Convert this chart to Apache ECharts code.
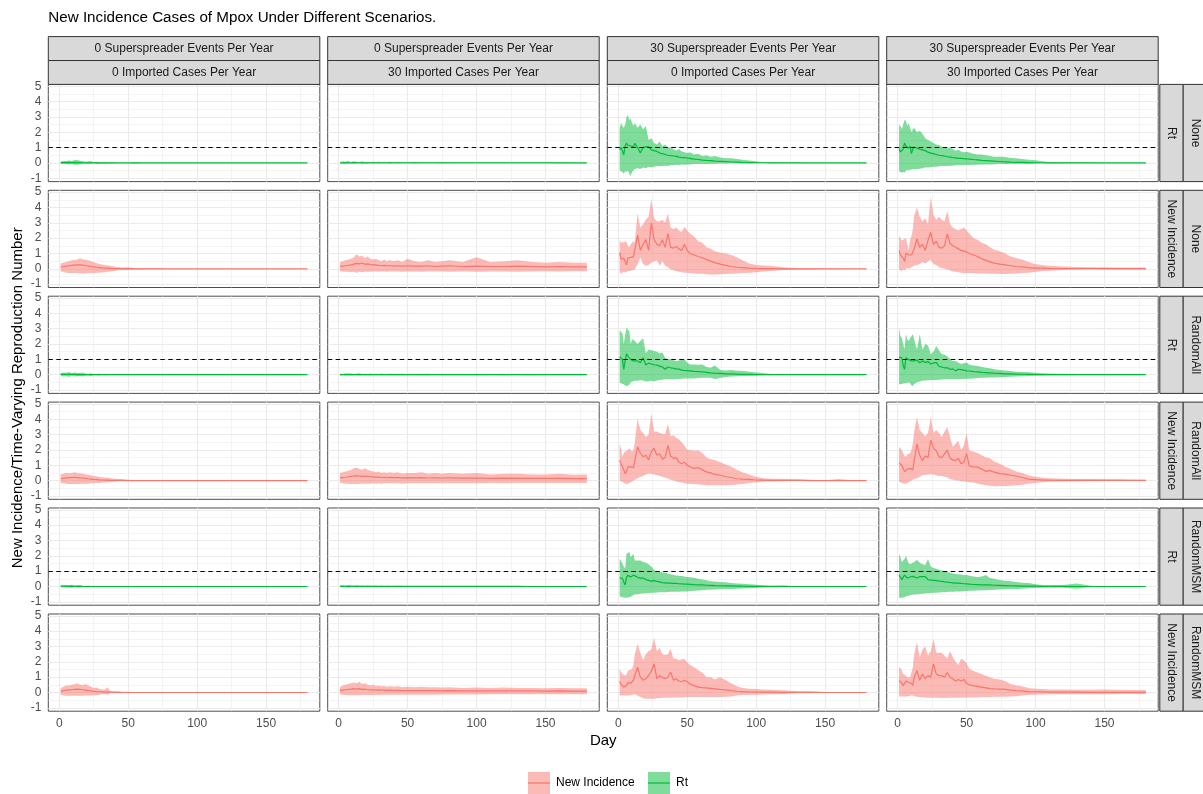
<!DOCTYPE html>
<html><head><meta charset="utf-8">
<script src="https://cdn.jsdelivr.net/npm/echarts@6/dist/echarts.min.js"></script>
<style>html,body{margin:0;padding:0;background:#fff}#c{width:1203px;height:794px}</style>
</head><body><div id="c"></div>
<script>
// ---------------- text ----------------
const chartTitle = 'New Incidence Cases of Mpox Under Different Scenarios.';
const xTitle = 'Day';
const yTitle = 'New Incidence/Time-Varying Reproduction Number';
const colSuper = ['0 Superspreader Events Per Year','0 Superspreader Events Per Year','30 Superspreader Events Per Year','30 Superspreader Events Per Year'];
const colImport = ['0 Imported Cases Per Year','30 Imported Cases Per Year','0 Imported Cases Per Year','30 Imported Cases Per Year'];
const rowMeasure = ['Rt','New Incidence','Rt','New Incidence','Rt','New Incidence'];
const rowScenario = ['None','None','RandomAll','RandomAll','RandomMSM','RandomMSM'];
const legendNames = ['New Incidence','Rt'];
// ---------------- ticks ----------------
const xTicks = [0,50,100,150];
const xMinor = [25,75,125,175];
const yTicks = [-1,0,1,2,3,4,5];
const yMinor = [-0.5,0.5,1.5,2.5,3.5,4.5];
const rtThreshold = 1;
// ---------------- day grids ----------------
const daysA = [1,2,3,4,5,6,7,8,9,10,11,12, 14,16,18,20,22,24,26,28,30,32,34,36,38,40,42,44,46,48,50,52, 55,58,61,64,67,70,74,78,82,86,90, 95,100,105,110,120,130,140,150,160,170,180];
const daysB = [1,3,5,7,9,11,13,15,17,19,21,23,25,27,29,31,33,35,37, 40,43,46,50, 55,60,65,70,75,80, 90,100,110,120,130,140,150,160,170,180];

// ---------------- column 1 (0 SS, 0 imported) ----------------
const p11Mean = [0.02,0.03,0.02,0.03,0.02,0.03,0.02,0.02,0.01,0.01,0.01,0.01,0.01,0,0,0,0,0,0, 0,0,0,0, 0,0,0,0,0,0, 0,0,0,0,0,0,0,0,0,0];
const p11Hi   = [0.08,0.1,0.12,0.15,0.12,0.18,0.2,0.14,0.12,0.08,0.1,0.12,0.06,0.08,0.05,0.04,0.06,0.03,0.04, 0.02,0,0,0, 0.04,0,0,0,0,0, 0,0,0,0,0,0,0,0,0,0];
const p11Lo   = [-0.05,-0.08,-0.08,-0.1,-0.08,-0.12,-0.12,-0.1,-0.08,-0.06,-0.07,-0.08,-0.04,-0.05,-0.04,-0.03,-0.04,-0.02,-0.03, -0.01,0,0,0, -0.03,0,0,0,0,0, 0,0,0,0,0,0,0,0,0,0];
const p21Mean = [0.1,0.15,0.18,0.2,0.22,0.24,0.25,0.25,0.24,0.2,0.18,0.15,0.12,0.1,0.08,0.06,0.05,0.04,0.03, 0.02,0.01,0.01,0.01, 0,0,0,0,0,0, 0,0,0,0,0,0,0,0,0,0];
const p21Hi   = [0.36,0.4,0.45,0.5,0.55,0.57,0.6,0.68,0.62,0.6,0.55,0.5,0.42,0.38,0.32,0.28,0.25,0.22,0.2, 0.15,0.1,0.08,0.1, 0.06,0.03,0.03,0.05,0.03,0, 0,0,0,0,0,0,0,0,0,0];
const p21Lo   = [-0.17,-0.2,-0.25,-0.27,-0.28,-0.28,-0.28,-0.3,-0.3,-0.3,-0.28,-0.28,-0.27,-0.26,-0.25,-0.24,-0.22,-0.2,-0.17, -0.15,-0.1,-0.08,-0.08, -0.05,-0.03,-0.02,-0.02,-0.02,0, 0,0,0,0,0,0,0,0,0,0];
const p31Mean = [0.02,0.02,0.03,0.02,0.02,0.02,0.01,0.02,0.01,0.01,0.01,0,0,0,0,0,0,0,0, 0,0,0,0, 0,0,0,0,0,0, 0,0,0,0,0,0,0,0,0,0];
const p31Hi   = [0.1,0.15,0.12,0.18,0.1,0.14,0.12,0.1,0.15,0.08,0.06,0.1,0.05,0.04,0.06,0.03,0.05,0.02,0.03, 0.02,0,0,0, 0,0,0,0,0,0, 0,0,0,0,0,0,0,0,0,0];
const p31Lo   = [-0.08,-0.12,-0.1,-0.14,-0.08,-0.1,-0.1,-0.08,-0.12,-0.06,-0.05,-0.08,-0.04,-0.03,-0.05,-0.02,-0.04,-0.01,-0.02, -0.01,0,0,0, 0,0,0,0,0,0, 0,0,0,0,0,0,0,0,0,0];
const p41Mean = [0.12,0.15,0.18,0.2,0.2,0.22,0.2,0.18,0.17,0.15,0.12,0.1,0.08,0.07,0.05,0.04,0.03,0.03,0.02, 0.01,0.01,0.01,0, 0,0,0,0,0,0, 0,0,0,0,0,0,0,0,0,0];
const p41Hi   = [0.4,0.45,0.5,0.48,0.5,0.55,0.5,0.48,0.45,0.42,0.38,0.35,0.3,0.28,0.25,0.22,0.2,0.18,0.15, 0.12,0.1,0.08,0.05, 0.04,0.03,0.02,0.03,0,0, 0,0,0,0,0,0,0,0,0,0];
const p41Lo   = [-0.15,-0.18,-0.2,-0.22,-0.22,-0.22,-0.22,-0.22,-0.2,-0.2,-0.2,-0.18,-0.17,-0.16,-0.15,-0.13,-0.12,-0.1,-0.09, -0.07,-0.05,-0.04,-0.03, -0.02,-0.01,-0.01,-0.01,0,0, 0,0,0,0,0,0,0,0,0,0];
const p51Mean = [0.01,0.02,0.02,0.01,0.02,0.01,0.01,0.01,0,0,0,0,0,0,0,0,0,0,0, 0,0,0,0, 0,0,0,0,0,0, 0,0,0,0,0,0,0,0,0,0];
const p51Hi   = [0.06,0.08,0.1,0.08,0.12,0.06,0.08,0.1,0.05,0.04,0.06,0.03,0.05,0.02,0.02,0,0,0,0, 0,0,0,0, 0,0,0,0,0,0, 0,0,0,0,0,0,0,0,0,0];
const p51Lo   = [-0.04,-0.06,-0.07,-0.06,-0.08,-0.04,-0.06,-0.07,-0.04,-0.03,-0.04,-0.02,-0.03,-0.01,-0.01,0,0,0,0, 0,0,0,0, 0,0,0,0,0,0, 0,0,0,0,0,0,0,0,0,0];
const p61Mean = [0.08,0.12,0.15,0.17,0.18,0.2,0.22,0.2,0.18,0.15,0.12,0.1,0.08,0.06,0.05,0.04,0.03,0.02,0.02, 0.01,0.01,0,0, 0,0,0,0,0,0, 0,0,0,0,0,0,0,0,0,0];
const p61Hi   = [0.3,0.38,0.45,0.45,0.5,0.52,0.6,0.5,0.48,0.55,0.45,0.38,0.3,0.32,0.25,0.2,0.2,0.35,0.1, 0.08,0.06,0.05,0.05, 0.03,0.02,0.02,0.03,0,0, 0,0,0,0,0,0,0,0,0,0];
const p61Lo   = [-0.15,-0.2,-0.22,-0.22,-0.22,-0.22,-0.22,-0.22,-0.22,-0.2,-0.2,-0.2,-0.18,-0.18,-0.15,-0.12,-0.1,-0.15,-0.05, -0.04,-0.03,-0.02,-0.02, -0.01,-0.01,-0.01,-0.01,0,0, 0,0,0,0,0,0,0,0,0,0];

// ---------------- column 2 (0 SS, 30 imported) ----------------
const p12Mean = [0.01,0.01,0.02,0.01,0.01,0.02,0.01,0.01,0.01,0.01,0.01,0.01,0.01,0.01,0.01,0.01,0.01,0.01,0.01, 0.01,0.01,0.01,0.01, 0.01,0.01,0.01,0.01,0.01,0.01, 0.01,0.01,0.01,0.01,0.01,0.01,0.01,0,0,0];
const p12Hi   = [0.06,0.1,0.08,0.12,0.06,0.1,0.08,0.05,0.1,0.06,0.08,0.05,0.07,0.04,0.08,0.05,0.06,0.04,0.07, 0.05,0.06,0.04,0.05, 0.06,0.04,0.05,0.03,0.06,0.04, 0.05,0.03,0.05,0.04,0.03,0.05,0.04,0.02,0.01,0];
const p12Lo   = [-0.04,-0.07,-0.05,-0.08,-0.04,-0.07,-0.05,-0.03,-0.07,-0.04,-0.05,-0.03,-0.05,-0.03,-0.05,-0.03,-0.04,-0.03,-0.05, -0.03,-0.04,-0.03,-0.03, -0.04,-0.03,-0.03,-0.02,-0.04,-0.03, -0.03,-0.02,-0.03,-0.03,-0.02,-0.03,-0.03,-0.01,-0.01,0];
const p22Mean = [0.15,0.18,0.2,0.22,0.25,0.3,0.35,0.32,0.38,0.3,0.32,0.28,0.25,0.25,0.22,0.2,0.22,0.2,0.2, 0.18,0.2,0.18,0.2, 0.18,0.17,0.2,0.15,0.18,0.2, 0.15,0.18,0.15,0.15,0.17,0.15,0.13,0.15,0.12,0.13];
const p22Hi   = [0.45,0.5,0.55,0.6,0.65,0.75,0.95,0.8,0.85,0.7,0.8,0.65,0.6,0.65,0.55,0.5,0.6,0.5,0.55, 0.5,0.55,0.45,0.65, 0.5,0.45,0.55,0.45,0.5,0.55, 0.45,0.75,0.45,0.5,0.55,0.45,0.4,0.45,0.4,0.4];
const p22Lo   = [-0.15,-0.18,-0.2,-0.2,-0.22,-0.2,-0.25,-0.2,-0.22,-0.2,-0.2,-0.2,-0.18,-0.18,-0.2,-0.18,-0.18,-0.2,-0.18, -0.18,-0.18,-0.2,-0.18, -0.18,-0.2,-0.18,-0.17,-0.18,-0.2, -0.17,-0.2,-0.17,-0.18,-0.2,-0.17,-0.16,-0.17,-0.16,-0.16];
const p32Mean = [0.01,0.01,0.01,0.02,0.01,0.01,0.01,0.01,0.01,0.01,0.01,0.01,0.01,0.01,0.01,0.01,0.01,0.01,0.01, 0.01,0.01,0.01,0.01, 0.01,0.01,0.01,0.01,0.01,0.01, 0.01,0.01,0.01,0.01,0.01,0.01,0.01,0,0,0];
const p32Hi   = [0.08,0.05,0.1,0.06,0.09,0.05,0.07,0.1,0.05,0.06,0.04,0.08,0.05,0.06,0.04,0.07,0.05,0.04,0.06, 0.05,0.04,0.06,0.04, 0.05,0.04,0.06,0.03,0.05,0.04, 0.04,0.05,0.03,0.04,0.03,0.04,0.03,0.02,0.02,0];
const p32Lo   = [-0.05,-0.03,-0.06,-0.04,-0.05,-0.03,-0.04,-0.06,-0.03,-0.04,-0.03,-0.05,-0.03,-0.04,-0.03,-0.04,-0.03,-0.03,-0.04, -0.03,-0.03,-0.04,-0.03, -0.03,-0.03,-0.04,-0.02,-0.03,-0.03, -0.03,-0.03,-0.02,-0.03,-0.02,-0.03,-0.02,-0.01,-0.01,0];
const p42Mean = [0.18,0.2,0.22,0.25,0.28,0.3,0.32,0.3,0.28,0.3,0.27,0.25,0.24,0.22,0.23,0.2,0.22,0.2,0.21, 0.2,0.2,0.18,0.2, 0.18,0.2,0.17,0.18,0.17,0.18, 0.16,0.17,0.15,0.16,0.15,0.15,0.14,0.15,0.13,0.13];
const p42Hi   = [0.5,0.55,0.6,0.65,0.7,0.8,0.85,0.75,0.7,0.8,0.7,0.65,0.6,0.55,0.6,0.5,0.55,0.5,0.55, 0.5,0.55,0.45,0.5, 0.5,0.55,0.45,0.5,0.45,0.5, 0.45,0.5,0.4,0.45,0.45,0.4,0.4,0.45,0.38,0.4];
const p42Lo   = [-0.15,-0.18,-0.2,-0.2,-0.22,-0.2,-0.22,-0.2,-0.2,-0.2,-0.2,-0.2,-0.18,-0.2,-0.18,-0.2,-0.18,-0.18,-0.18, -0.18,-0.18,-0.2,-0.18, -0.18,-0.18,-0.17,-0.18,-0.17,-0.18, -0.17,-0.17,-0.16,-0.17,-0.16,-0.16,-0.16,-0.16,-0.15,-0.15];
const p52Mean = [0.01,0.01,0.01,0.01,0.01,0.01,0.01,0.01,0.01,0.01,0.01,0.01,0.01,0.01,0.01,0.01,0.01,0.01,0.01, 0.01,0.01,0.01,0.01, 0.01,0.01,0.01,0.01,0.01,0.01, 0.01,0.01,0.01,0.01,0.01,0,0,0,0,0];
const p52Hi   = [0.06,0.08,0.05,0.1,0.06,0.05,0.08,0.05,0.06,0.04,0.07,0.05,0.04,0.06,0.04,0.05,0.03,0.05,0.04, 0.04,0.05,0.03,0.04, 0.04,0.03,0.04,0.03,0.04,0.03, 0.03,0.04,0.02,0.03,0.03,0.02,0.01,0,0,0];
const p52Lo   = [-0.04,-0.05,-0.03,-0.06,-0.04,-0.03,-0.05,-0.03,-0.04,-0.02,-0.04,-0.03,-0.02,-0.04,-0.02,-0.03,-0.02,-0.03,-0.02, -0.02,-0.03,-0.02,-0.02, -0.02,-0.02,-0.02,-0.02,-0.02,-0.02, -0.02,-0.02,-0.01,-0.02,-0.02,-0.01,-0.01,0,0,0];
const p62Mean = [0.12,0.15,0.18,0.2,0.22,0.25,0.22,0.25,0.2,0.22,0.18,0.17,0.18,0.15,0.17,0.15,0.15,0.14,0.15, 0.13,0.14,0.12,0.13, 0.12,0.13,0.12,0.12,0.11,0.12, 0.1,0.11,0.1,0.1,0.1,0.1,0.09,0.1,0.09,0.09];
const p62Hi   = [0.35,0.45,0.5,0.55,0.6,0.65,0.6,0.7,0.55,0.6,0.5,0.45,0.5,0.42,0.45,0.4,0.42,0.38,0.4, 0.38,0.4,0.35,0.38, 0.35,0.38,0.35,0.35,0.32,0.35, 0.3,0.32,0.3,0.32,0.3,0.3,0.28,0.3,0.28,0.28];
const p62Lo   = [-0.12,-0.15,-0.17,-0.18,-0.18,-0.18,-0.18,-0.18,-0.17,-0.17,-0.16,-0.16,-0.16,-0.15,-0.16,-0.15,-0.15,-0.15,-0.15, -0.15,-0.15,-0.14,-0.14, -0.14,-0.14,-0.14,-0.14,-0.13,-0.13, -0.13,-0.13,-0.12,-0.12,-0.12,-0.12,-0.12,-0.12,-0.11,-0.11];

// ---------------- column 3 (30 SS, 0 imported) ----------------
const p13Mean = [0.85,1.0,0.8,0.53,1.1,1.3,1.15,1.06,1.1,1.0,1.05,1.28, 1.0,0.64,1.0,1.05,1.06,0.85,0.8,0.75,0.64,0.6,0.55,0.5,0.47,0.45,0.42,0.38,0.35,0.34,0.32,0.3, 0.25,0.22,0.18,0.16,0.15,0.12,0.1,0.08,0.06,0.05,0.03, 0.02,0.01,0.01,0,0,0,0,0,0,0,0];
const p13Hi   = [2.3,2.6,2.4,2.3,2.5,3.0,3.1,2.8,2.9,2.6,2.4,2.6, 2.3,2.5,2.2,2.4,1.5,1.6,1.3,1.2,1.4,1.1,1.2,1.0,1.0,0.9,0.8,0.9,0.75,0.7,0.65,0.7, 0.55,0.6,0.45,0.5,0.4,0.45,0.35,0.3,0.3,0.25,0.2, 0.15,0.1,0.05,0.05,0.03,0.02,0,0,0,0,0];
const p13Lo   = [-0.5,-0.55,-0.6,-0.7,-0.55,-0.6,-0.5,-0.7,-0.85,-0.6,-0.5,-0.4, -0.35,-0.4,-0.3,-0.35,-0.25,-0.3,-0.25,-0.2,-0.22,-0.2,-0.18,-0.2,-0.15,-0.15,-0.12,-0.14,-0.1,-0.12,-0.1,-0.1, -0.08,-0.08,-0.06,-0.07,-0.05,-0.05,-0.04,-0.04,-0.03,-0.03,-0.02, -0.02,-0.02,-0.01,-0.01,0,0,0,0,0,0,0];
const p23Mean = [1.06,0.64,0.7,0.68,0.5,0.25,0.7,0.8,0.75,0.72,0.78,0.8, 2.2,1.2,1.6,1.9,1.2,3.0,1.9,1.6,1.5,1.9,1.4,2.3,1.4,1.35,1.45,1.3,1.2,1.6,1.2,1.0, 0.9,0.8,0.72,0.6,0.5,0.4,0.3,0.22,0.15,0.1,0.07, 0.04,0.02,0.01,0.01,0,0,0,0,0,0,0];
const p23Hi   = [1.9,1.7,1.75,1.7,1.8,1.75,1.5,1.4,1.6,1.7,1.8,1.7, 3.6,2.7,2.9,3.2,3.4,4.55,3.3,3.1,3.1,3.2,3.0,3.6,2.7,2.6,2.7,2.5,2.4,2.75,2.5,2.3, 2.1,1.8,1.7,1.4,1.3,1.15,1.05,1.0,0.9,0.75,0.55, 0.35,0.25,0.22,0.2,0.1,0.05,0.05,0.02,0.02,0,0];
const p23Lo   = [-0.2,-0.32,-0.25,-0.2,-0.25,-0.2,-0.15,-0.15,-0.12,-0.1,-0.08,-0.05, 0.3,0.75,0.3,0.2,0.25,0.4,0.5,0.55,0.2,0.5,0.2,0.1,-0.05,-0.1,-0.15,-0.2,-0.22,-0.25,-0.25,-0.28, -0.3,-0.32,-0.32,-0.35,-0.38,-0.38,-0.36,-0.34,-0.32,-0.3,-0.28, -0.25,-0.22,-0.18,-0.15,-0.08,-0.05,-0.03,-0.02,-0.01,0,0];
const p33Mean = [1.17,1.05,1.0,0.35,0.9,1.37,1.2,1.1,1.0,0.95,0.9,0.95, 0.9,0.78,1.1,0.63,0.75,0.7,0.65,0.62,0.56,0.5,0.35,0.5,0.45,0.42,0.38,0.36,0.3,0.28,0.27,0.25, 0.22,0.2,0.18,0.15,0.12,0.1,0.08,0.06,0.05,0.04,0.02, 0.02,0.01,0,0,0,0,0,0,0,0,0];
const p33Hi   = [2.9,2.8,2.7,2.0,2.6,3.07,2.95,2.85,2.0,2.3,2.3,2.2, 2.0,2.2,2.4,1.4,1.65,1.6,1.55,1.5,1.4,1.45,1.1,1.0,1.0,0.95,0.9,0.92,0.98,1.0,0.8,0.67, 0.67,0.65,0.67,0.5,0.45,0.6,0.3,0.28,0.3,0.25,0.25, 0.2,0.15,0.11,0.05,0.04,0.05,0,0,0,0,0];
const p33Lo   = [-0.52,-0.55,-0.6,-0.63,-0.7,-0.74,-0.7,-0.65,-0.5,-0.45,-0.42,-0.4, -0.4,-0.37,-0.38,-0.45,-0.42,-0.4,-0.45,-0.38,-0.35,-0.33,-0.3,-0.3,-0.3,-0.3,-0.28,-0.28,-0.26,-0.25,-0.25,-0.24, -0.24,-0.22,-0.2,-0.2,-0.2,-0.28,-0.22,-0.15,-0.12,-0.1,-0.09, -0.08,-0.06,-0.04,-0.02,-0.02,-0.02,0,0,0,0,0];
const p43Mean = [1.33,1.1,0.9,0.7,0.45,0.6,0.9,1.0,0.9,0.8,0.85,0.9, 2.2,1.8,1.55,1.65,1.35,1.9,2.1,1.65,1.75,1.4,1.5,2.3,1.6,1.45,1.5,1.2,1.1,1.2,1.0,0.9, 0.8,0.85,0.7,0.57,0.5,0.4,0.35,0.25,0.2,0.12,0.1, 0.08,0.04,0.03,0.02,0.01,0.01,0,0,0,0,0];
const p43Hi   = [2.4,2.1,1.55,1.8,1.9,1.95,2.0,2.1,2.0,1.9,2.0,2.5, 4.04,3.3,3.1,2.85,3.0,4.37,3.2,3.2,3.1,3.05,3.0,3.7,2.9,2.95,2.8,2.7,2.5,2.3,2.0,2.0, 1.95,1.98,1.8,1.5,1.4,1.35,1.2,1.05,0.9,0.7,0.55, 0.4,0.25,0.15,0.12,0.1,0.08,0.05,0.03,0.1,0.02,0];
const p43Lo   = [0.0,-0.05,-0.08,-0.15,-0.2,-0.2,-0.2,-0.15,-0.1,-0.05,0.0,0.05, 0.15,0.24,0.3,0.4,0.46,0.45,0.4,0.35,0.3,0.25,0.2,0.13,0.05,0.0,-0.05,-0.1,-0.12,-0.15,-0.2,-0.2, -0.23,-0.25,-0.27,-0.3,-0.3,-0.3,-0.3,-0.3,-0.28,-0.25,-0.22, -0.15,-0.12,-0.08,-0.06,-0.04,-0.03,-0.02,-0.01,-0.02,0,0];
const p53Mean = [0.57,0.55,0.53,0.3,0.1,0.6,0.74,0.65,0.62,0.7,0.74,0.7, 0.6,0.55,0.55,0.45,0.4,0.35,0.38,0.33,0.3,0.25,0.24,0.22,0.22,0.2,0.2,0.18,0.17,0.15,0.15,0.14, 0.12,0.11,0.1,0.08,0.07,0.06,0.05,0.04,0.04,0.03,0.02, 0.01,0.01,0.01,0,0,0,0,0,0,0,0];
const p53Hi   = [1.8,1.7,1.5,1.3,1.15,2.13,2.2,2.25,1.9,2.0,2.13,1.7, 1.7,1.7,1.6,1.55,1.45,1.3,1.1,0.95,0.95,0.93,0.9,0.85,0.8,0.75,0.72,0.7,0.68,0.65,0.62,0.6, 0.57,0.5,0.45,0.4,0.35,0.33,0.3,0.28,0.22,0.2,0.18, 0.15,0.12,0.08,0.06,0.08,0.02,0,0,0,0,0];
const p53Lo   = [-0.64,-0.68,-0.7,-0.72,-0.74,-0.74,-0.72,-0.7,-0.68,-0.6,-0.55,-0.5, -0.5,-0.48,-0.45,-0.44,-0.42,-0.41,-0.4,-0.39,-0.38,-0.38,-0.37,-0.36,-0.35,-0.35,-0.34,-0.34,-0.33,-0.33,-0.32,-0.3, -0.28,-0.26,-0.24,-0.22,-0.21,-0.2,-0.18,-0.17,-0.16,-0.14,-0.13, -0.12,-0.1,-0.07,-0.05,-0.04,-0.02,0,0,0,0,0];
const p63Mean = [0.72,0.55,0.45,0.35,0.24,0.45,0.65,0.68,0.6,0.55,0.8,1.1, 1.65,1.0,0.8,0.9,1.1,1.4,1.87,0.9,1.1,1.0,0.9,1.0,1.33,0.8,0.9,0.75,0.7,0.8,0.7,0.55, 0.45,0.35,0.32,0.3,0.27,0.24,0.2,0.17,0.12,0.08,0.06, 0.04,0.03,0.02,0.02,0.01,0.01,0.01,0,0,0,0];
const p63Hi   = [1.54,1.35,1.2,1.15,1.1,1.2,1.4,1.45,1.5,1.54,1.8,2.5, 3.17,2.6,2.1,2.5,2.7,2.8,3.57,2.7,2.9,2.5,2.45,2.5,2.85,2.2,2.2,2.1,2.15,2.2,1.95,1.8, 1.65,1.45,1.3,1.0,1.0,0.85,1.0,0.8,0.6,0.4,0.3, 0.25,0.22,0.2,0.18,0.15,0.08,0.08,0.04,0.02,0,0];
const p63Lo   = [-0.2,-0.2,-0.2,-0.2,-0.2,-0.2,-0.2,-0.2,-0.18,-0.15,-0.13,-0.12, -0.2,-0.3,-0.38,-0.41,-0.41,-0.4,-0.4,-0.38,-0.36,-0.35,-0.35,-0.35,-0.34,-0.33,-0.32,-0.32,-0.32,-0.31,-0.3,-0.3, -0.3,-0.3,-0.3,-0.3,-0.3,-0.3,-0.3,-0.28,-0.26,-0.2,-0.17, -0.15,-0.14,-0.13,-0.12,-0.1,-0.05,-0.04,-0.02,-0.01,0,0];

// ---------------- column 4 (30 SS, 30 imported) ----------------
const p14Mean = [0.95,0.7,0.64,0.9,1.3,1.1,1.0,0.96,1.1,0.6,0.9,1.05, 0.96,0.9,0.85,0.8,0.7,0.64,0.6,0.55,0.5,0.48,0.45,0.4,0.38,0.35,0.33,0.3,0.3,0.28,0.26,0.25, 0.22,0.2,0.17,0.15,0.13,0.11,0.09,0.07,0.05,0.04,0.03, 0.02,0.01,0.01,0,0,0,0,0,0,0,0];
const p14Hi   = [2.5,2.4,2.2,2.5,2.8,2.75,2.4,2.6,2.3,2.0,2.2,2.3, 2.0,2.1,1.9,1.6,1.5,1.4,1.3,1.2,1.17,1.05,1.0,0.95,1.0,0.9,0.8,0.85,0.75,0.7,0.72,0.68, 0.6,0.55,0.55,0.5,0.45,0.4,0.4,0.38,0.32,0.3,0.25, 0.2,0.17,0.1,0.06,0.04,0.03,0.02,0,0,0,0];
const p14Lo   = [-0.55,-0.6,-0.65,-0.6,-0.64,-0.5,-0.45,-0.5,-0.43,-0.45,-0.4,-0.42, -0.4,-0.38,-0.35,-0.3,-0.3,-0.28,-0.25,-0.25,-0.22,-0.2,-0.2,-0.2,-0.18,-0.18,-0.16,-0.16,-0.15,-0.15,-0.14,-0.14, -0.12,-0.12,-0.1,-0.1,-0.1,-0.09,-0.08,-0.07,-0.06,-0.06,-0.05, -0.05,-0.04,-0.03,-0.02,-0.01,0,0,0,0,0,0];
const p24Mean = [1.2,0.9,0.8,0.7,0.47,1.0,0.95,0.9,0.85,0.9,1.0,1.3, 1.96,1.4,1.6,1.2,1.85,2.38,1.6,1.8,1.4,1.35,1.5,2.28,1.65,1.5,1.4,1.3,1.2,1.15,1.1,1.0, 0.9,0.8,0.65,0.55,0.45,0.37,0.3,0.25,0.2,0.15,0.12, 0.08,0.05,0.04,0.03,0.02,0.02,0.02,0.01,0.01,0.01,0.01];
const p24Hi   = [2.15,2.0,1.85,1.9,1.95,2.0,1.6,1.2,1.9,2.1,2.6,3.5, 4.0,3.4,3.1,3.3,2.9,4.7,3.5,3.2,3.4,3.2,3.1,3.77,2.9,2.7,2.6,2.5,2.6,2.7,2.5,2.3, 2.0,1.9,1.7,1.6,1.4,1.25,1.15,1.0,0.8,0.7,0.6, 0.45,0.3,0.25,0.2,0.15,0.12,0.1,0.1,0.08,0.08,0.08];
const p24Lo   = [-0.05,-0.1,-0.15,-0.05,-0.1,0.0,0.05,0.0,0.05,0.1,0.15,0.2, 0.25,0.3,0.45,0.35,0.5,0.57,0.3,0.25,0.1,0.05,0.0,-0.05,-0.1,-0.17,-0.2,-0.22,-0.25,-0.28,-0.28,-0.28, -0.28,-0.3,-0.3,-0.3,-0.32,-0.32,-0.34,-0.34,-0.32,-0.3,-0.28, -0.25,-0.2,-0.15,-0.12,-0.08,-0.06,-0.05,-0.05,-0.04,-0.04,-0.04];
const p34Mean = [1.15,1.1,1.1,0.6,0.35,1.1,1.0,0.98,0.95,0.9,0.88,0.9, 0.95,0.78,0.9,0.8,0.85,0.7,0.75,0.8,0.55,0.5,0.45,0.45,0.35,0.38,0.25,0.35,0.33,0.3,0.25,0.24, 0.2,0.18,0.15,0.14,0.12,0.1,0.08,0.06,0.05,0.04,0.03, 0.02,0.01,0.01,0,0,0,0,0,0,0,0];
const p34Hi   = [3.07,2.5,2.4,2.0,1.65,2.63,2.3,2.2,2.4,2.5,2.63,2.3, 1.65,2.63,1.65,2.0,1.9,1.33,1.5,1.87,1.6,1.33,1.3,1.2,1.0,0.9,0.9,0.8,0.7,0.75,0.8,0.65, 0.6,0.56,0.5,0.45,0.42,0.35,0.3,0.28,0.24,0.2,0.18, 0.16,0.12,0.1,0.08,0.06,0.05,0.03,0,0,0,0];
const p34Lo   = [-0.63,-0.62,-0.6,-0.58,-0.55,-0.55,-0.52,-0.5,-0.55,-0.7,-0.74,-0.6, -0.5,-0.45,-0.4,-0.38,-0.37,-0.37,-0.35,-0.34,-0.33,-0.32,-0.3,-0.3,-0.3,-0.3,-0.3,-0.3,-0.28,-0.28,-0.26,-0.26, -0.24,-0.22,-0.2,-0.2,-0.18,-0.18,-0.16,-0.15,-0.14,-0.12,-0.1, -0.08,-0.06,-0.05,-0.04,-0.03,-0.02,-0.01,0,0,0,0];
const p44Mean = [1.15,1.1,1.0,0.8,0.57,0.65,0.75,0.78,0.8,0.75,0.7,1.3, 2.4,1.65,1.3,1.6,1.5,2.63,2.1,1.95,1.55,1.5,1.75,1.98,1.45,1.35,1.3,1.45,1.1,1.2,1.76,0.95, 0.9,0.88,0.75,0.6,0.65,0.55,0.45,0.42,0.35,0.3,0.2, 0.1,0.06,0.04,0.03,0.02,0.01,0.01,0.01,0.01,0.01,0.01];
const p44Hi   = [2.2,2.1,2.0,1.8,1.6,1.55,1.7,1.75,1.8,2.0,2.4,3.2, 4.15,3.3,3.1,2.9,3.1,4.15,3.1,3.3,3.1,2.85,3.2,3.5,2.85,2.2,2.4,2.6,2.0,2.3,3.07,1.95, 1.9,1.8,1.65,1.5,1.45,1.25,1.1,0.9,0.75,0.6,0.5, 0.35,0.25,0.18,0.15,0.12,0.1,0.1,0.08,0.08,0.06,0.06];
const p44Lo   = [-0.08,-0.1,-0.15,-0.18,-0.2,-0.2,-0.15,-0.1,-0.05,0.0,0.05,0.1, 0.15,0.25,0.35,0.38,0.4,0.42,0.4,0.35,0.3,0.3,0.25,0.2,0.1,0.05,0.03,0.0,-0.05,-0.05,-0.08,-0.1, -0.12,-0.2,-0.25,-0.3,-0.33,-0.37,-0.36,-0.36,-0.33,-0.3,-0.27, -0.2,-0.15,-0.1,-0.08,-0.06,-0.05,-0.04,-0.03,-0.03,-0.03,-0.02];
const p54Mean = [0.74,0.6,0.45,0.55,0.74,0.7,0.55,0.6,0.62,0.64,0.66,0.68, 0.55,0.64,0.65,0.64,0.45,0.42,0.4,0.38,0.35,0.34,0.3,0.28,0.26,0.24,0.22,0.22,0.2,0.18,0.17,0.15, 0.13,0.12,0.11,0.1,0.1,0.08,0.07,0.06,0.05,0.04,0.03, 0.02,0.02,0.01,0.01,0.01,0,0,0,0,0,0];
const p54Hi   = [2.13,1.9,1.6,1.7,1.8,2.0,1.75,1.5,1.45,1.5,1.55,1.6, 1.75,1.55,1.45,1.4,1.8,1.3,1.2,1.15,1.1,1.05,1.0,0.95,0.9,0.85,0.82,0.8,0.78,0.75,0.75,0.7, 0.65,0.62,0.65,0.75,0.55,0.5,0.42,0.38,0.35,0.3,0.25, 0.22,0.15,0.1,0.08,0.1,0.2,0.05,0.02,0,0,0];
const p54Lo   = [-0.74,-0.74,-0.73,-0.72,-0.7,-0.64,-0.62,-0.6,-0.56,-0.54,-0.53,-0.52, -0.5,-0.49,-0.47,-0.46,-0.44,-0.42,-0.41,-0.4,-0.39,-0.38,-0.37,-0.36,-0.35,-0.34,-0.33,-0.32,-0.32,-0.31,-0.3,-0.28, -0.27,-0.26,-0.25,-0.24,-0.23,-0.22,-0.2,-0.18,-0.17,-0.16,-0.14, -0.12,-0.1,-0.08,-0.06,-0.08,-0.15,-0.02,0,0,0,0];
const p64Mean = [0.78,0.7,0.6,0.45,0.5,0.75,0.7,0.65,0.7,0.6,0.46,1.0, 1.43,0.8,1.2,0.9,1.1,1.0,1.87,1.2,1.1,1.1,1.0,1.3,1.0,0.9,0.75,0.85,0.75,0.85,0.6,0.5, 0.45,0.4,0.35,0.3,0.25,0.23,0.22,0.2,0.15,0.12,0.1, 0.06,0.05,0.04,0.03,0.02,0.02,0.01,0.01,0.01,0.01,0.01];
const p64Hi   = [1.65,1.6,1.45,1.2,1.15,1.1,1.0,1.0,1.0,1.3,1.65,2.5, 3.28,2.3,2.8,3.0,2.4,2.7,3.5,2.6,2.6,2.6,2.4,2.2,2.7,2.3,2.0,1.8,2.2,2.1,1.9,1.55, 1.4,1.3,1.2,1.1,1.0,0.9,0.85,0.75,0.55,0.45,0.4, 0.3,0.25,0.22,0.2,0.2,0.18,0.18,0.2,0.18,0.16,0.16];
const p64Lo   = [-0.26,-0.26,-0.26,-0.26,-0.26,-0.26,-0.26,-0.25,-0.22,-0.2,-0.2,-0.25, -0.28,-0.3,-0.32,-0.33,-0.34,-0.35,-0.35,-0.35,-0.35,-0.36,-0.36,-0.35,-0.35,-0.35,-0.35,-0.35,-0.34,-0.33,-0.32,-0.32, -0.32,-0.31,-0.3,-0.3,-0.29,-0.28,-0.28,-0.27,-0.26,-0.24,-0.2, -0.17,-0.15,-0.13,-0.12,-0.12,-0.12,-0.12,-0.12,-0.1,-0.1,-0.1];

// ---------------- assemble panels (row r, col c) ----------------
const panels = [
  {r:0,c:0,days:daysB,mean:p11Mean,lo:p11Lo,hi:p11Hi},{r:0,c:1,days:daysB,mean:p12Mean,lo:p12Lo,hi:p12Hi},{r:0,c:2,days:daysA,mean:p13Mean,lo:p13Lo,hi:p13Hi},{r:0,c:3,days:daysA,mean:p14Mean,lo:p14Lo,hi:p14Hi},
  {r:1,c:0,days:daysB,mean:p21Mean,lo:p21Lo,hi:p21Hi},{r:1,c:1,days:daysB,mean:p22Mean,lo:p22Lo,hi:p22Hi},{r:1,c:2,days:daysA,mean:p23Mean,lo:p23Lo,hi:p23Hi},{r:1,c:3,days:daysA,mean:p24Mean,lo:p24Lo,hi:p24Hi},
  {r:2,c:0,days:daysB,mean:p31Mean,lo:p31Lo,hi:p31Hi},{r:2,c:1,days:daysB,mean:p32Mean,lo:p32Lo,hi:p32Hi},{r:2,c:2,days:daysA,mean:p33Mean,lo:p33Lo,hi:p33Hi},{r:2,c:3,days:daysA,mean:p34Mean,lo:p34Lo,hi:p34Hi},
  {r:3,c:0,days:daysB,mean:p41Mean,lo:p41Lo,hi:p41Hi},{r:3,c:1,days:daysB,mean:p42Mean,lo:p42Lo,hi:p42Hi},{r:3,c:2,days:daysA,mean:p43Mean,lo:p43Lo,hi:p43Hi},{r:3,c:3,days:daysA,mean:p44Mean,lo:p44Lo,hi:p44Hi},
  {r:4,c:0,days:daysB,mean:p51Mean,lo:p51Lo,hi:p51Hi},{r:4,c:1,days:daysB,mean:p52Mean,lo:p52Lo,hi:p52Hi},{r:4,c:2,days:daysA,mean:p53Mean,lo:p53Lo,hi:p53Hi},{r:4,c:3,days:daysA,mean:p54Mean,lo:p54Lo,hi:p54Hi},
  {r:5,c:0,days:daysB,mean:p61Mean,lo:p61Lo,hi:p61Hi},{r:5,c:1,days:daysB,mean:p62Mean,lo:p62Lo,hi:p62Hi},{r:5,c:2,days:daysA,mean:p63Mean,lo:p63Lo,hi:p63Hi},{r:5,c:3,days:daysA,mean:p64Mean,lo:p64Lo,hi:p64Hi}
];
panels.forEach(p => ['mean','lo','hi'].forEach(k => {
  if (p[k].length !== p.days.length) throw new Error('panel r'+(p.r+1)+'c'+(p.c+1)+' '+k+' length '+p[k].length+' vs '+p.days.length);
}));

// ---------------- layout / style ----------------
const FONT = '"Liberation Sans", Arial, Helvetica, sans-serif';
const colLeft = [48.3, 327.7, 607.3, 886.7];
const rowTop = [84.4, 190.3, 296.2, 402.1, 508.0, 614.0];
const panelW = 271.5, panelH = 97.2;
const X_MIN = -7.95, X_MAX = 188.95, Y_MIN = -1.22, Y_MAX = 5.12;
const COL_INC = '#F8766D', COL_RT = '#00BA38';
const GRID_COL = '#EBEBEB';

const gridMarks = [];
xTicks.forEach(v => gridMarks.push({xAxis: v, lineStyle: {color: GRID_COL, width: 1.1, type: 'solid'}}));
xMinor.forEach(v => gridMarks.push({xAxis: v, lineStyle: {color: GRID_COL, width: 0.55, type: 'solid'}}));
yTicks.forEach(v => gridMarks.push({yAxis: v, lineStyle: {color: GRID_COL, width: 1.1, type: 'solid'}}));
yMinor.forEach(v => gridMarks.push({yAxis: v, lineStyle: {color: GRID_COL, width: 0.55, type: 'solid'}}));

const option = {animation: false, backgroundColor: '#fff', grid: [], xAxis: [], yAxis: [], series: [], graphic: []};

panels.forEach((p, i) => {
  const isRt = rowMeasure[p.r] === 'Rt';
  const col = isRt ? COL_RT : COL_INC;
  option.grid.push({left: colLeft[p.c], top: rowTop[p.r], width: panelW, height: panelH, show: true,
    backgroundColor: '#fff', borderColor: '#4D4D4D', borderWidth: 1, containLabel: false, outerBoundsMode: 'none'});
  option.xAxis.push({gridIndex: i, type: 'value', min: X_MIN, max: X_MAX,
    axisLine: {show: false}, splitLine: {show: false}, minorTick: {show: false}, minorSplitLine: {show: false},
    axisTick: {show: p.r === 5, length: 4, lineStyle: {color: '#333', width: 1}, customValues: xTicks},
    axisLabel: {show: p.r === 5, customValues: xTicks, color: '#4D4D4D', fontSize: 12, fontFamily: FONT, margin: 6}});
  option.yAxis.push({gridIndex: i, type: 'value', min: Y_MIN, max: Y_MAX,
    axisLine: {show: false}, splitLine: {show: false}, minorTick: {show: false}, minorSplitLine: {show: false},
    axisTick: {show: p.c === 0, length: 4, lineStyle: {color: '#333', width: 1}, customValues: yTicks},
    axisLabel: {show: p.c === 0, customValues: yTicks, color: '#4D4D4D', fontSize: 12, fontFamily: FONT, margin: 7}});
  // background grid lines (below everything else)
  option.series.push({type: 'line', xAxisIndex: i, yAxisIndex: i, data: [[X_MAX + 50, 0]], symbol: 'none', silent: true, z: 1,
    lineStyle: {opacity: 0},
    markLine: {z: 1, silent: true, symbol: ['none','none'], label: {show: false}, animation: false, data: gridMarks}});
  // ribbon polygon between lower and upper bound, mapped through the axes
  option.series.push({type: 'custom', xAxisIndex: i, yAxisIndex: i, silent: true, z: 2, clip: true,
    data: [[p.days[0], p.lo[0], p.hi[0]]],
    renderItem: function (params, api) {
      const upper = p.days.map((d, k) => api.coord([d, p.hi[k]]));
      const lower = p.days.map((d, k) => api.coord([d, p.lo[k]])).reverse();
      return {type: 'polygon', shape: {points: upper.concat(lower)}, style: {fill: col, opacity: 0.5, stroke: null, lineWidth: 0}};
    }});
  // mean line
  const meanSeries = {type: 'line', xAxisIndex: i, yAxisIndex: i, data: p.days.map((d, k) => [d, p.mean[k]]),
    symbol: 'none', silent: true, z: 3, lineStyle: {color: col, width: 1.2}};
  if (isRt) {
    meanSeries.markLine = {z: 4, silent: true, symbol: ['none','none'], label: {show: false}, animation: false,
      data: [{yAxis: rtThreshold, lineStyle: {color: '#000', width: 1.1, type: [4.5, 3.5]}}]};
  }
  option.series.push(meanSeries);
});

// ---------------- strips ----------------
const stripStyle = {fill: '#D9D9D9', stroke: '#333', lineWidth: 1};
const stripText = (x, y, text, rot) => ({type: 'text', x: x, y: y, rotation: rot || 0, z: 10,
  style: {text: text, fill: '#1A1A1A', fontSize: 12, fontFamily: FONT, align: 'center', verticalAlign: 'middle'}});
for (let c = 0; c < 4; c++) {
  const x = colLeft[c];
  option.graphic.push({type: 'rect', shape: {x: x, y: 36.6, width: panelW, height: 23.9}, style: stripStyle, z: 9});
  option.graphic.push({type: 'rect', shape: {x: x, y: 60.5, width: panelW, height: 23.9}, style: stripStyle, z: 9});
  option.graphic.push(stripText(x + panelW / 2, 48.6, colSuper[c]));
  option.graphic.push(stripText(x + panelW / 2, 72.5, colImport[c]));
}
for (let r = 0; r < 6; r++) {
  const y = rowTop[r];
  option.graphic.push({type: 'rect', shape: {x: 1159.8, y: y, width: 23.4, height: panelH}, style: stripStyle, z: 9});
  option.graphic.push({type: 'rect', shape: {x: 1183.2, y: y, width: 23.4, height: panelH}, style: stripStyle, z: 9});
  option.graphic.push(stripText(1171.5, y + panelH / 2, rowMeasure[r], -Math.PI / 2));
  option.graphic.push(stripText(1194.9, y + panelH / 2, rowScenario[r], -Math.PI / 2));
}
// ---------------- titles ----------------
option.graphic.push({type: 'text', x: 48.3, y: 18, z: 10,
  style: {text: chartTitle, fill: '#000', fontSize: 15.2, fontFamily: FONT, align: 'left', verticalAlign: 'middle'}});
option.graphic.push({type: 'text', x: (colLeft[0] + colLeft[3] + panelW) / 2, y: 741, z: 10,
  style: {text: xTitle, fill: '#000', fontSize: 15, fontFamily: FONT, align: 'center', verticalAlign: 'middle'}});
option.graphic.push({type: 'text', x: 18, y: (rowTop[0] + rowTop[5] + panelH) / 2, rotation: Math.PI / 2, z: 10,
  style: {text: yTitle, fill: '#000', fontSize: 15, fontFamily: FONT, align: 'center', verticalAlign: 'middle'}});
// ---------------- legend ----------------
const legendItems = [{name: legendNames[0], color: COL_INC, x: 528}, {name: legendNames[1], color: COL_RT, x: 648}];
legendItems.forEach(it => {
  option.graphic.push({type: 'rect', shape: {x: it.x, y: 772, width: 22, height: 22}, style: {fill: it.color, opacity: 0.5}, z: 10});
  option.graphic.push({type: 'line', shape: {x1: it.x, y1: 783, x2: it.x + 22, y2: 783}, style: {stroke: it.color, lineWidth: 1.2}, z: 11});
  option.graphic.push({type: 'text', x: it.x + 28, y: 783, z: 10,
    style: {text: it.name, fill: '#000', fontSize: 12, fontFamily: FONT, align: 'left', verticalAlign: 'middle'}});
});

const chart = echarts.init(document.getElementById('c'), null, {renderer: 'canvas', width: 1203, height: 794});
chart.setOption(option);
</script>
</body></html>
